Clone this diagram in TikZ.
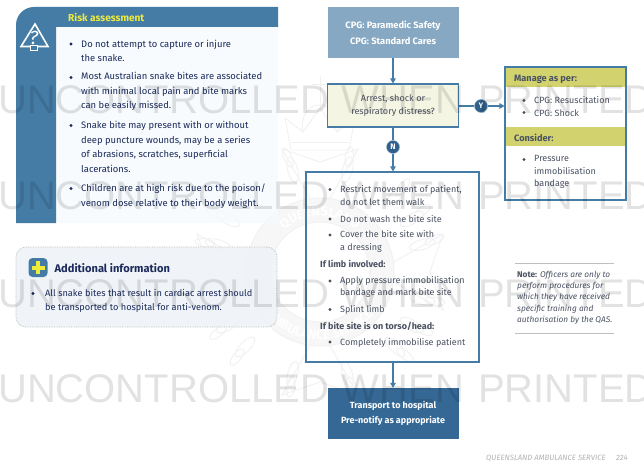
\documentclass[tikz,border=0pt]{standalone}
\usepackage{fontspec}
\setmainfont{Fira Sans}
\newfontfamily\wmfont{Liberation Sans}
\usetikzlibrary{arrows.meta,decorations.text,shapes.geometric,calc}
\definecolor{qblue}{HTML}{457CA5}
\definecolor{qdark}{HTML}{356895}
\definecolor{qmid}{HTML}{86A8C2}
\definecolor{qcirc}{HTML}{2F5F8A}
\definecolor{qnavy}{HTML}{1B2A5C}
\definecolor{qtext}{HTML}{4A5262}
\definecolor{qband}{HTML}{D2D26E}
\definecolor{qcream}{HTML}{F5F5E3}
\definecolor{qyellow}{HTML}{EDEB3C}
\definecolor{qcrest}{HTML}{F1F1F1}
\definecolor{qpanel}{HTML}{F6FAFD}
\definecolor{qadd}{HTML}{EEF3F7}
\tikzset{
  arr/.style={draw=qblue,line width=1.1pt,-{Triangle[length=5pt,width=5.5pt]}},
  plainline/.style={draw=qblue,line width=1.1pt},
  navy/.style={inner sep=0pt,anchor=west,align=left,text=qnavy,font=\fontsize{9.4}{14.6}\selectfont},
  grey/.style={inner sep=0pt,anchor=west,align=left,text=qtext,font=\fontsize{9}{12.4}\selectfont},
  greybold/.style={grey,font=\fontsize{9}{12.4}\selectfont\bfseries},
  dotn/.style={circle,inner sep=0pt,minimum size=3.2pt,fill=qnavy},
  dotg/.style={circle,inner sep=0pt,minimum size=3.2pt,fill=qtext},
  flowbox/.style={inner sep=0pt,align=center,minimum width=131pt},
  yn/.style={circle,inner sep=0pt,minimum size=13pt,fill=qcirc,draw=qblue!60!white,line width=.5pt,text=white,font=\fontsize{8}{8}\selectfont\bfseries},
  wm/.style={inner sep=0pt,anchor=base west,text=black,text opacity=.115,font=\wmfont\fontsize{40}{40}\selectfont},
  crestline/.style={draw=qcrest,line width=.9pt,fill=none},
}
\begin{document}
\begin{tikzpicture}[x=1pt,y=-1pt]
\useasboundingbox (0,0) rectangle (644,462);
\fill[white] (0,0) rectangle (644,462);
% crest watermark
\coordinate (cc) at (320,272);
\foreach \a in {0,90,180,270}{
  \draw[crestline,shift={(cc)},rotate=\a] (-9,-72) -- (-38,-123) -- (0,-110) -- (38,-123) -- (9,-72);
}
\foreach \a in {45,60,75,105,120,135,225,240,255,285,300,315,-15,15,165,195}{
  \draw[crestline,shift={(cc)},rotate=\a] (0,-106) ellipse[x radius=5pt,y radius=13pt];
  \draw[crestline,shift={(cc)},rotate=\a+7] (13,-118) ellipse[x radius=4pt,y radius=10pt];
}
\fill[qcrest!60!white] (cc) circle[radius=74pt];
\fill[white] (cc) circle[radius=50pt];
\draw[crestline] (cc) circle[radius=74pt];
\draw[crestline] (cc) circle[radius=50pt];
\path[decorate,decoration={text along path,text align=center,text={|\fontsize{13}{13}\selectfont\bfseries\color{white}|QUEENSLAND}}]
  ($(cc)+(165:56pt)$) arc[start angle=165,end angle=15,radius=56pt];
\path[decorate,decoration={text along path,text align=center,text={|\fontsize{13}{13}\selectfont\bfseries\color{white}|AMBULANCE SERVICE}}]
  ($(cc)+(170:68pt)$) arc[start angle=170,end angle=370,radius=68pt];
\draw[crestline] (291,150) -- (285,118) -- (303,132) -- (320,108) -- (337,132) -- (355,118) -- (349,150) -- cycle;
\draw[crestline] (291,142) -- (349,142);
\draw[crestline] (320,108) -- (320,76) (312,84) -- (328,84);
\draw[crestline] (303,132) .. controls (296,96) and (344,96) .. (337,132);

% risk assessment panel
\fill[qpanel,opacity=.8] (56,27) rectangle (278,223);
\fill[qblue] (16,223) -- (16,25) arc[start angle=180,end angle=90,radius=18pt] -- (278,7) -- (278,27) -- (56,27) -- (56,223) -- cycle;
\node[inner sep=0pt,anchor=west,text=qyellow,font=\fontsize{10.1}{12}\selectfont\bfseries] (risktitle) at (68,17) {Risk assessment};
\draw[white,line width=1.6pt,line join=miter] (35,24) -- (48,46.5) -- (21,46.5) -- cycle;
\draw[white,line width=.9pt,fill=qblue] (30.5,45) rectangle (37.5,50.5);
\node[inner sep=0pt,text=white,font=\fontsize{19}{19}\selectfont\itshape] (riskicon) at (34,38) {?};
\foreach \n/\y in {a/44,b/77.5,c/125.5,d/188.5}{\node[dotn] (rb\n) at (71,\y) {};}
\node[navy] (r1) at (81,51) {Do not attempt to capture or injure\\the snake.};
\node[navy] (r2) at (81,91.5) {Most Australian snake bites are associated\\with minimal local pain and bite marks\\can be easily missed.};
\node[navy] (r3) at (81,147) {Snake bite may present with or without\\deep puncture wounds, may be a series\\of abrasions, scratches, superficial\\lacerations.};
\node[navy] (r4) at (81,196) {Children are at high risk due to the poison/\\venom dose relative to their body weight.};

% additional information
\draw[draw=gray!55,densely dotted,line width=.7pt,fill=qadd,fill opacity=.85,rounded corners=10pt] (16,247) rectangle (277,327);
\fill[qblue,rounded corners=4pt] (28.5,258) rectangle (47.5,277);
\fill[qyellow] (36,261) rectangle (40,274);
\fill[qyellow] (31.5,265.5) rectangle (44.5,269.5);
\node[inner sep=0pt,anchor=west,text=qnavy,font=\fontsize{11.1}{14}\selectfont\bfseries] (addtitle) at (54.5,268) {Additional information};
\node[dotn] (ab) at (33,293.5) {};
\node[navy,font=\fontsize{9.2}{14}\selectfont] (a1) at (45,300.5) {All snake bites that result in cardiac arrest should\\be transported to hospital for anti-venom.};

% flowchart
\node[flowbox,fill=qmid,minimum height=51pt,text=white,font=\fontsize{9.3}{16}\selectfont\bfseries] (top) at (393,32.5) {CPG: Paramedic Safety\\CPG: Standard Cares};
\node[flowbox,fill=qcream,draw=qblue,line width=1.1pt,minimum height=43pt,text=qtext,font=\fontsize{9.1}{12.2}\selectfont] (dec) at (393,105.5) {Arrest, shock or\\respiratory distress?};
\node[draw=qblue,line width=1.1pt,inner sep=0pt,minimum width=173pt,minimum height=190pt] (main) at (392.5,267) {};
\node[flowbox,fill=qdark,minimum height=51pt,text=white,font=\fontsize{9}{15}\selectfont\bfseries] (trans) at (393,413.5) {Transport to hospital\\Pre-notify as appropriate};
\node[draw=qblue,line width=1.1pt,inner sep=0pt,minimum width=121pt,minimum height=133pt] (rbox) at (565.5,133.5) {};
\fill[qband] (505.6,68) rectangle (625.4,87);
\fill[qband] (505.6,127) rectangle (625.4,146);
\node[inner sep=0pt,anchor=west,text=qtext,font=\fontsize{9.2}{12}\selectfont\bfseries] (mgr) at (514,79) {Manage as per:};
\node[inner sep=0pt,anchor=west,text=qtext,font=\fontsize{9.2}{12}\selectfont\bfseries] (cons) at (514,137.5) {Consider:};
\node[dotg] (m1) at (524,100.5) {};
\node[dotg] (m2) at (524,112.5) {};
\node[dotg] (m3) at (524,159.5) {};
\node[grey] (mt1) at (534,106.5) {CPG: Resuscitation\\CPG: Shock};
\node[grey] (mt2) at (534,172) {Pressure\\immobilisation\\bandage};

\node[yn] (nN) at (393,147) {N};
\node[yn] (nY) at (481,106) {Y};
\draw[arr] (top) -- (dec);
\draw[plainline] (dec) -- (nN);
\draw[arr] (nN) -- (main.north -| nN);
\draw[plainline] (dec.east |- nY) -- (nY);
\draw[arr] (nY) -- (rbox.west |- nY);
\draw[arr] (main.south -| trans) -- (trans);

\foreach \n/\y in {a/189.5,b/219,c/235,d/281,e/309.5,f/342}{\node[dotg] (mb\n) at (330,\y) {};}
\node[grey] (t1) at (340,195.5) {Restrict movement of patient,\\do not let them walk};
\node[grey] (t2) at (340,219) {Do not wash the bite site};
\node[grey] (t3) at (340,241.5) {Cover the bite site with\\a dressing};
\node[greybold] (t4) at (320,263.5) {If limb involved:};
\node[grey] (t5) at (340,287) {Apply pressure immobilisation\\bandage and mark bite site};
\node[grey] (t6) at (340,309.5) {Splint limb};
\node[greybold] (t7) at (320,326) {If bite site is on torso/head:};
\node[grey] (t8) at (340,342.5) {Completely immobilise patient};

% note
\coordinate (nl1) at (515,263);
\coordinate (nr1) at (614,263);
\coordinate (nl2) at (515,333);
\coordinate (nr2) at (614,333);
\draw[gray!50,line width=.8pt] (nl1) -- (nr1);
\draw[gray!50,line width=.8pt] (nl2) -- (nr2);
\node[inner sep=0pt,anchor=west,align=left,text=qtext,font=\fontsize{8.3}{11.3}\selectfont\itshape] (note) at (517,297.5) {{\upshape\bfseries Note:} Officers are only to\\perform procedures for\\which they have received\\specific training and\\authorisation by the QAS.};
\node[inner sep=0pt,anchor=west,text=gray!60,font=\fontsize{7.7}{9}\selectfont\itshape] (foot) at (486,458) {QUEENSLAND AMBULANCE SERVICE};
\node[inner sep=0pt,anchor=west,text=gray!60,font=\fontsize{7.7}{9}\selectfont\itshape] (pg) at (616,458) {224};

% text watermark
\begin{scope}
\clip (0,0) rectangle (644,462);
\foreach \n/\y in {1/113.5,2/209.5,3/307,4/402}{
  \node[wm] (wm\n) at (-2,\y) {UNCONTROLLED\hspace{1.5pt} WHEN\hspace{3pt} PRINTED};
}
\end{scope}
\end{tikzpicture}
\end{document}
